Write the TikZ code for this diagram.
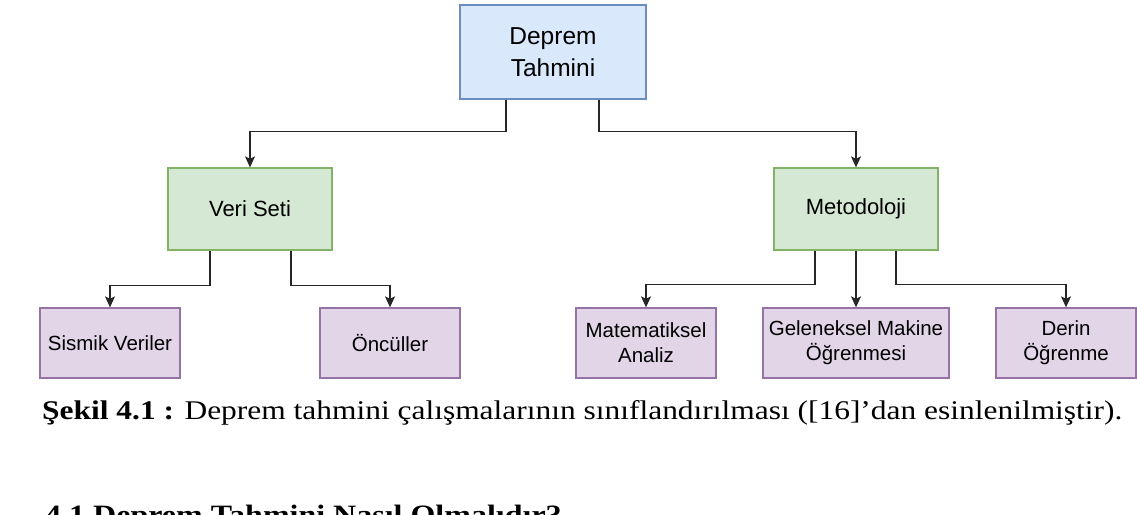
\documentclass[tikz,border=0pt]{standalone}
\usepackage{fontspec}
\setmainfont{Liberation Serif}
\newfontfamily\boxfont{Liberation Sans}
\usetikzlibrary{arrows.meta,calc}
\definecolor{bluefill}{HTML}{DAE8FC}
\definecolor{bluedraw}{HTML}{6C8EBF}
\definecolor{greenfill}{HTML}{D5E8D4}
\definecolor{greendraw}{HTML}{82B366}
\definecolor{purplefill}{HTML}{E1D5E7}
\definecolor{purpledraw}{HTML}{9673A6}
\tikzset{
  base box/.style={rectangle, inner sep=0pt, align=center, line width=1.3pt, text=black},
  rootbox/.style={base box, fill=bluefill, draw=bluedraw, minimum width=186pt, minimum height=94pt,
    font=\boxfont\fontsize{24.5}{32}\selectfont},
  midbox/.style={base box, fill=greenfill, draw=greendraw, minimum width=164pt, minimum height=82pt,
    font=\boxfont\fontsize{22}{27}\selectfont},
  leafbox/.style={base box, fill=purplefill, draw=purpledraw, minimum width=140pt, minimum height=70pt,
    font=\boxfont\fontsize{20.5}{25}\selectfont},
  conn/.style={draw=black!85, line width=1.2pt, -{Stealth[length=11pt,width=10pt,inset=2.5pt]}},
}
\begin{document}
\begin{tikzpicture}[x=1pt,y=-1pt]
\useasboundingbox (0,0) rectangle (1137,514);
\clip (0,0) rectangle (1137,514);
% boxes
\node[rootbox] (root) at (553,52) {Deprem\\Tahmini};
\node[midbox] (veri) at (250,209) {Veri Seti};
\node[midbox] (metod) at (856,209) {Metodoloji};
\node[leafbox] (sismik) at (110,343) {Sismik Veriler};
\node[leafbox] (oncul) at (390,343) {Öncüller};
\node[leafbox] (mat) at (646,343) {Matematiksel\\Analiz};
\node[leafbox, minimum width=186pt] (gel) at (856,343) {Geleneksel Makine\\Öğrenmesi};
\node[leafbox] (derin) at (1066,343) {Derin\\Öğrenme};
% connectors
\draw[conn] ([xshift=-47pt]root.south) -- ++(0,32) -| (veri.north);
\draw[conn] ([xshift=46pt]root.south) -- ++(0,32) -| (metod.north);
\draw[conn] ([xshift=-40pt]veri.south) -- ++(0,35) -| (sismik.north);
\draw[conn] ([xshift=41pt]veri.south) -- ++(0,35) -| (oncul.north);
\draw[conn] ([xshift=-41pt]metod.south) -- ++(0,34) -| (mat.north);
\draw[conn] (metod.south) -- (gel.north);
\draw[conn] ([xshift=40pt]metod.south) -- ++(0,34) -| (derin.north);
% caption
\node[anchor=base west, inner sep=0pt] (cap) at (42,419)
  {\resizebox{1080pt}{19pt}{\textbf{Şekil 4.1 :} Deprem tahmini çalışmalarının sınıflandırılması ([16]’dan esinlenilmiştir).}};
% heading (cut off at the bottom)
\node[anchor=base west, inner sep=0pt] (head) at (45,524)
  {\scalebox{1.6}[1.4]{\fontsize{20}{24}\selectfont\bfseries 4.1 Deprem Tahmini Nasıl Olmalıdır?}};
\end{tikzpicture}
\end{document}
